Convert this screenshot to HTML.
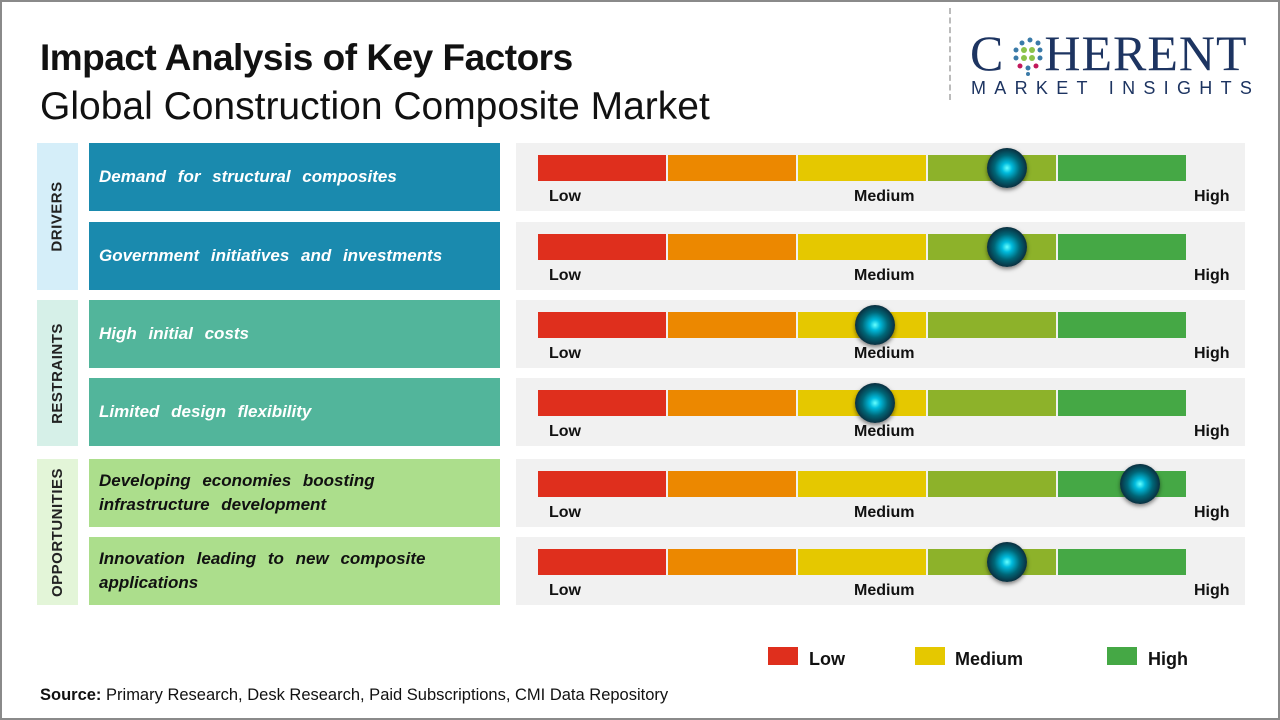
<!DOCTYPE html>
<html><head><meta charset="utf-8"><style>
*{margin:0;padding:0;box-sizing:border-box}
body{width:1280px;height:720px;background:#fff;font-family:"Liberation Sans","DejaVu Sans",sans-serif;position:relative;overflow:hidden}
.frame{position:absolute;left:0;top:0;width:1280px;height:720px;border:2px solid #8a8a8a}
.abs{position:absolute}
.t1{left:40px;top:37px;font-size:37px;font-weight:bold;color:#111;letter-spacing:-0.5px}
.t2{left:40px;top:85px;font-size:39px;color:#111}
.side{position:absolute;left:37px;width:41px;display:flex;align-items:center;justify-content:center}
.side span{transform:rotate(-90deg);white-space:nowrap;font-weight:bold;font-size:15px;color:#222;letter-spacing:0.5px}
.box{position:absolute;left:89px;width:411px;height:68px;color:#fff;font-style:italic;font-weight:bold;font-size:17px;padding:0 10px;display:flex;align-items:center;line-height:24px;word-spacing:7px}
.panel{position:absolute;left:516px;width:729px;height:68px;background:#f1f1f1}
.bar{position:absolute;left:22px;top:12px;height:26px;width:648px;display:flex}
.bar div{flex:1;margin-right:2px}
.bar div:last-child{margin-right:0}
.lab{position:absolute;top:45px;font-size:16px;font-weight:bold;color:#111}
.dot{position:absolute;top:5px;width:40px;height:40px;border-radius:50%;background:radial-gradient(circle at 50% 50%,#6ff 0,#0bd 18%,#067 45%,#0a3040 70%,#1a2a30 100%);box-shadow:0 2px 4px rgba(0,0,0,.5)}
.lg{position:absolute;top:647px;width:30px;height:18px}
.lt{position:absolute;top:649px;font-size:18px;font-weight:bold;color:#111}
</style></head><body>
<div class="frame"></div>
<div class="abs t1">Impact Analysis of Key Factors</div>
<div class="abs t2">Global Construction Composite Market</div>
<div class="abs" style="left:949px;top:8px;height:92px;border-left:2px dashed #bbb"></div>
<div class="abs" style="left:970px;top:28px;font-family:'Liberation Serif',serif;font-size:50px;color:#1d3461;line-height:50px;letter-spacing:1px">C<span style="display:inline-block;width:40px"></span>HERENT</div>
<svg class="abs" style="left:1010px;top:36px" width="40" height="40"><g>
<circle cx="20" cy="4" r="2.5" fill="#3a7aa8"/><circle cx="12" cy="7" r="2.5" fill="#3a7aa8"/><circle cx="28" cy="7" r="2.5" fill="#3a7aa8"/>
<circle cx="6" cy="14" r="2.5" fill="#3a7aa8"/><circle cx="14" cy="14" r="3" fill="#8bc34a"/><circle cx="22" cy="14" r="3" fill="#8bc34a"/><circle cx="30" cy="14" r="2.5" fill="#3a7aa8"/>
<circle cx="6" cy="22" r="2.5" fill="#3a7aa8"/><circle cx="14" cy="22" r="3" fill="#8bc34a"/><circle cx="22" cy="22" r="3" fill="#8bc34a"/><circle cx="30" cy="22" r="2.5" fill="#3a7aa8"/>
<circle cx="10" cy="30" r="2.5" fill="#c2185b"/><circle cx="18" cy="32" r="2.5" fill="#3a7aa8"/><circle cx="26" cy="30" r="2.5" fill="#c2185b"/><circle cx="18" cy="38" r="2" fill="#3a7aa8"/></g></svg>
<div class="abs" style="left:971px;top:78px;font-size:18px;color:#1d3461;letter-spacing:8.3px">MARKET INSIGHTS</div>

<div class="side" style="top:143px;height:147px;background:#d5eef9"><span>DRIVERS</span></div>
<div class="side" style="top:300px;height:146px;background:#d6f0e8"><span>RESTRAINTS</span></div>
<div class="side" style="top:459px;height:146px;background:#e3f5d8"><span>OPPORTUNITIES</span></div>

<div class="box" style="top:143px;background:#1a8aae">Demand for structural composites</div>
<div class="box" style="top:222px;background:#1a8aae">Government initiatives and investments</div>
<div class="box" style="top:300px;background:#52b59b">High initial costs</div>
<div class="box" style="top:378px;background:#52b59b">Limited design flexibility</div>
<div class="box" style="top:459px;background:#acde8c;color:#111">Developing economies boosting infrastructure development</div>
<div class="box" style="top:537px;background:#acde8c;color:#111">Innovation leading to new composite applications</div>

<div id="panels"></div>
<script>
var tops=[143,222,300,378,459,537],pos=[1007,1007,875,875,1140,1007],h='';
for(var i=0;i<6;i++){h+='<div class="panel" style="top:'+tops[i]+'px"><div class="bar"><div style="background:#df2f1d"></div><div style="background:#ec8800"></div><div style="background:#e5c800"></div><div style="background:#8db22a"></div><div style="background:#45a845"></div></div><div class="lab" style="left:33px">Low</div><div class="lab" style="left:338px">Medium</div><div class="lab" style="left:678px">High</div><div class="dot" style="left:'+(pos[i]-516-20)+'px"></div></div>';}
document.getElementById('panels').innerHTML=h;
</script>

<div class="lg" style="left:768px;background:#df2f1d"></div><div class="lt" style="left:809px">Low</div>
<div class="lg" style="left:915px;background:#e5c800"></div><div class="lt" style="left:955px">Medium</div>
<div class="lg" style="left:1107px;background:#45a845"></div><div class="lt" style="left:1148px">High</div>
<div class="abs" style="left:40px;top:686px;font-size:16.5px;color:#111"><b>Source:</b> Primary Research, Desk Research, Paid Subscriptions, CMI Data Repository</div>
</body></html>
